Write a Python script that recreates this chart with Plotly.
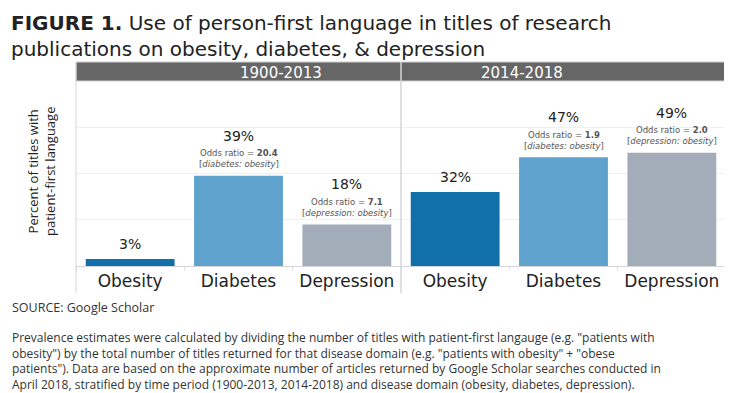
import plotly.graph_objects as go
from plotly.subplots import make_subplots

periods = ["1900-2013", "2014-2018"]
categories = ["Obesity", "Diabetes", "Depression"]
values_1900_2013 = [3, 39, 18]
values_2014_2018 = [32, 47, 49]
odds_1900_2013 = [None, "20.4", "7.1"]
odds_2014_2018 = [None, "1.9", "2.0"]
odds_pairs = [None, "diabetes: obesity", "depression: obesity"]
bar_colors = ["#1170aa", "#5fa2ce", "#a3acb9"]

title_bold = "FIGURE 1."
title_lines = ["Use of person-first language in titles of research",
               "publications on obesity, diabetes, & depression"]
y_title = "Percent of titles with<br>patient-first language"
source_text = "SOURCE: Google Scholar"
note_lines = [
    "Prevalence estimates were calculated by dividing the number of titles with patient-first langauge (e.g. \"patients with",
    "obesity\") by the total number of titles returned for that disease domain (e.g. \"patients with obesity\" + \"obese",
    "patients\"). Data are based on the approximate number of articles returned by Google Scholar searches conducted in",
    "April 2018, stratified by time period (1900-2013, 2014-2018) and disease domain (obesity, diabetes, depression).",
]

# page has an 8px body margin; figure coordinates are page coordinates minus OFF
OFF = 8
W, H = 732 - OFF, 393 - OFF
L, R = 76 - OFF, 6
T = 81 - OFF
BASE = 266 - OFF
B = H - BASE
plot_w = W - L - R
plot_h = H - T - B

def py(page_y):
    return (BASE - (page_y - OFF)) / plot_h

def px(page_x):
    return ((page_x - OFF) - L) / plot_w

fig = make_subplots(rows=1, cols=2, shared_yaxes=True, horizontal_spacing=0)

all_vals = [values_1900_2013, values_2014_2018]
all_odds = [odds_1900_2013, odds_2014_2018]

for c, (vals, odds) in enumerate(zip(all_vals, all_odds), start=1):
    fig.add_trace(go.Bar(x=categories, y=vals, marker=dict(color=bar_colors, line=dict(width=0)),
                         showlegend=False, hoverinfo="x+y"), row=1, col=c)
    xr = "x" if c == 1 else "x2"
    yr = "y" if c == 1 else "y2"
    for cat, v, o, pair in zip(categories, vals, odds, odds_pairs):
        shift_pct = 40 if o else 15
        fig.add_annotation(x=cat, y=v, xref=xr, yref=yr, text=f"{v}%", showarrow=False,
                           yanchor="middle", yshift=shift_pct,
                           font=dict(family="DejaVu Sans", size=14, color="#222"))
        if o:
            fig.add_annotation(x=cat, y=v, xref=xr, yref=yr,
                               text=f"Odds ratio = <b>{o}</b><br>[<i>{pair}</i>]",
                               showarrow=False, yanchor="middle", yshift=17,
                               font=dict(family="DejaVu Sans", size=8.5, color="#555"))

axis_common = dict(showline=False, ticks="outside", tickson="boundaries", ticklen=4,
                   tickcolor="#e2e2e2", ticklabelstandoff=3,
                   tickfont=dict(family="DejaVu Sans", size=17, color="#222"))
fig.update_xaxes(**axis_common)
fig.update_yaxes(range=[0, 80], dtick=20, showticklabels=False, showgrid=True, gridcolor="#f0f0f0",
                 zeroline=True, zerolinecolor="#d6d6d6", zerolinewidth=1, fixedrange=True)

# header band and frame lines
fig.add_shape(type="rect", xref="paper", yref="paper", x0=0, x1=1, y0=1, y1=py(62),
              fillcolor="#666666", line=dict(color="#cfcfcf", width=1), layer="above")
for xv in [0, 0.5, 1]:
    fig.add_shape(type="line", xref="paper", yref="paper", x0=xv, x1=xv, y0=py(293), y1=py(62),
                  line=dict(color="#d6d6d6", width=1.5 if xv == 0.5 else 1))
for i, p in enumerate(periods):
    fig.add_annotation(x=0.25 + 0.5 * i, y=py(72.5), xref="paper", yref="paper", text=p,
                       showarrow=False, yanchor="middle", borderpad=0,
                       font=dict(family="DejaVu Sans", size=15, color="white"))

fig.add_annotation(x=px(41), y=py(172), xref="paper", yref="paper", text=y_title,
                   textangle=-90, showarrow=False, xanchor="center", yanchor="middle",
                   font=dict(family="Open Sans", size=13, color="#222"))

title_text = f"<b>{title_bold}</b> " + "<br>".join(title_lines)
fig.add_annotation(x=px(10), y=py(36), xref="paper", yref="paper", text=title_text,
                   showarrow=False, xanchor="left", yanchor="middle", align="left", borderpad=0,
                   font=dict(family="DejaVu Sans", size=20, color="#222"))

fig.add_annotation(x=px(10), y=py(307), xref="paper", yref="paper", text=source_text,
                   showarrow=False, xanchor="left", yanchor="middle",
                   font=dict(family="Open Sans", size=12.5, color="#333"))
fig.add_annotation(x=px(10), y=py(361), xref="paper", yref="paper", text="<br>".join(note_lines),
                   showarrow=False, xanchor="left", yanchor="middle", align="left",
                   font=dict(family="Open Sans", size=12, color="#333"))

fig.update_layout(
    width=W, height=H,
    margin=dict(l=L, r=R, t=T, b=B),
    paper_bgcolor="white", plot_bgcolor="white",
    bargap=0.18,
)

fig.write_html("out.html")
